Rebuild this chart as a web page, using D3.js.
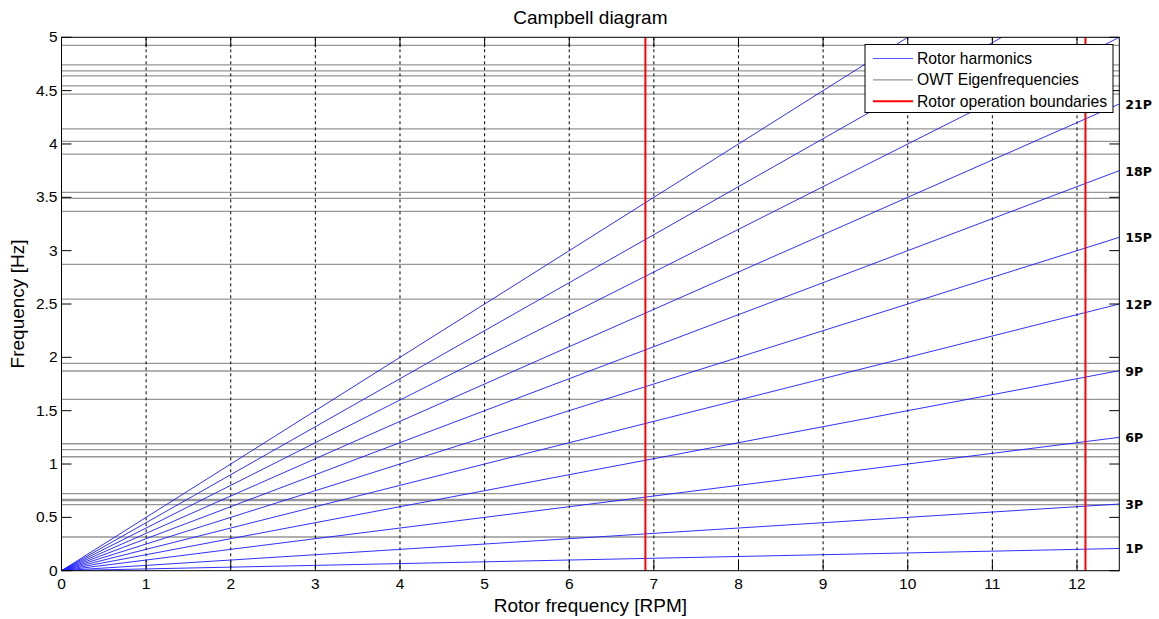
<!DOCTYPE html>
<html lang="en">
<head>
<meta charset="UTF-8">
<title>Campbell diagram</title>
<script src="https://d3js.org/d3.v7.min.js"></script>
<style>
    body { margin: 0; background: #fff; font-family: "Liberation Sans", Arial, sans-serif; }
    .tick-label { font-size: 15.5px; fill: #000; }
    .axis-label { font-size: 19px; fill: #000; }
    .harm-label { font-size: 12.5px; font-weight: bold; font-family: "DejaVu Sans", sans-serif; }
</style>
</head>
<body>
<div id="chart"></div>
<script>
// rotor harmonics (multiples of the rotor speed)
const harmonics = [1, 3, 6, 9, 12, 15, 18, 21, 24, 27, 30];
const labeledHarmonics = [1, 3, 6, 9, 12, 15, 18, 21];
// OWT eigenfrequencies [Hz]
const eigenFreqs = [0.316, 0.619, 0.656, 0.669, 0.722, 1.068, 1.134, 1.190,
    1.606, 1.872, 1.944, 2.546, 2.872, 3.368, 3.490, 3.546,
    3.905, 4.024, 4.142, 4.467, 4.545, 4.639, 4.686, 4.742, 4.924];
// rotor operating range [RPM]
const boundaries = [6.9, 12.1];
const xTicks = d3.range(0, 13);
const yTicks = [0, 0.5, 1, 1.5, 2, 2.5, 3, 3.5, 4, 4.5, 5];
const legendItems = ["Rotor harmonics", "OWT Eigenfrequencies", "Rotor operation boundaries"];

const W = 1159, H = 619;
const pLeft = 61.5, pRight = 1119.3, pTop = 37.3, pBottom = 570.7;

const svg = d3.select("#chart").append("svg")
    .attr("width", W).attr("height", H);

const x = d3.scaleLinear().domain([0, 12.5]).range([pLeft, pRight]);
const y = d3.scaleLinear().domain([0, 5]).range([pBottom, pTop]);

svg.append("defs").append("clipPath").attr("id", "plot")
    .append("rect")
    .attr("x", pLeft).attr("y", pTop)
    .attr("width", pRight - pLeft).attr("height", pBottom - pTop);

const plot = svg.append("g").attr("clip-path", "url(#plot)");

// eigenfrequencies
plot.selectAll(".eig")
    .data(eigenFreqs)
    .enter().append("line")
    .attr("x1", pLeft).attr("x2", pRight)
    .attr("y1", d => y(d)).attr("y2", d => y(d))
    .attr("stroke", "#969696")
    .attr("stroke-width", 1.3);

// vertical grid
plot.selectAll(".grid")
    .data(xTicks.slice(1))
    .enter().append("line")
    .attr("x1", d => x(d)).attr("x2", d => x(d))
    .attr("y1", pTop).attr("y2", pBottom)
    .attr("stroke", "#000")
    .attr("stroke-width", 1)
    .attr("stroke-dasharray", "3,3");

// harmonic lines, rpm -> Hz
plot.selectAll(".harm")
    .data(harmonics)
    .enter().append("line")
    .attr("x1", x(0)).attr("y1", y(0))
    .attr("x2", x(12.5)).attr("y2", d => y(d * 12.5 / 60))
    .attr("stroke", "#1a1aff")
    .attr("stroke-width", 0.9);

// operating boundaries
plot.selectAll(".bound")
    .data(boundaries)
    .enter().append("line")
    .attr("x1", d => x(d)).attr("x2", d => x(d))
    .attr("y1", pTop).attr("y2", pBottom)
    .attr("stroke", "#ff0000")
    .attr("stroke-width", 2);

// axes box and ticks (inside, mirrored)
const axisG = svg.append("g");
axisG.append("rect")
    .attr("x", pLeft).attr("y", pTop)
    .attr("width", pRight - pLeft).attr("height", pBottom - pTop)
    .attr("fill", "none").attr("stroke", "#000").attr("stroke-width", 1);

axisG.selectAll(".xt")
    .data(xTicks)
    .enter().append("line")
    .attr("x1", d => x(d)).attr("x2", d => x(d))
    .attr("y1", pBottom).attr("y2", pBottom - 10)
    .attr("stroke", "#000");
axisG.selectAll(".xt2")
    .data(xTicks)
    .enter().append("line")
    .attr("x1", d => x(d)).attr("x2", d => x(d))
    .attr("y1", pTop).attr("y2", pTop + 10)
    .attr("stroke", "#000");
axisG.selectAll(".yt")
    .data(yTicks)
    .enter().append("line")
    .attr("x1", pLeft).attr("x2", pLeft + 10)
    .attr("y1", d => y(d)).attr("y2", d => y(d))
    .attr("stroke", "#000");
axisG.selectAll(".yt2")
    .data(yTicks)
    .enter().append("line")
    .attr("x1", pRight).attr("x2", pRight - 10)
    .attr("y1", d => y(d)).attr("y2", d => y(d))
    .attr("stroke", "#000");

axisG.selectAll(".xl")
    .data(xTicks)
    .enter().append("text")
    .attr("class", "tick-label")
    .attr("x", d => x(d)).attr("y", pBottom + 18)
    .attr("text-anchor", "middle")
    .text(d => d);
axisG.selectAll(".yl")
    .data(yTicks)
    .enter().append("text")
    .attr("class", "tick-label")
    .attr("x", pLeft - 4).attr("y", d => y(d) + 5)
    .attr("text-anchor", "end")
    .text(d => d);

// harmonic labels at the right edge
svg.selectAll(".hl")
    .data(labeledHarmonics)
    .enter().append("text")
    .attr("class", "harm-label")
    .attr("x", pRight + 6)
    .attr("y", d => y(d * 12.5 / 60) + 5)
    .text(d => d + "P");

// titles
svg.append("text")
    .attr("x", (pLeft + pRight) / 2).attr("y", 24)
    .attr("text-anchor", "middle")
    .style("font-size", "19px")
    .text("Campbell diagram");
svg.append("text")
    .attr("class", "axis-label")
    .attr("x", (pLeft + pRight) / 2).attr("y", 612)
    .attr("text-anchor", "middle")
    .text("Rotor frequency [RPM]");
svg.append("text")
    .attr("class", "axis-label")
    .attr("transform", `translate(24,${(pTop + pBottom) / 2}) rotate(-90)`)
    .attr("text-anchor", "middle")
    .text("Frequency [Hz]");

// legend
const lg = svg.append("g").attr("transform", "translate(865,44.5)");
lg.append("rect")
    .attr("width", 248).attr("height", 68)
    .attr("fill", "#fff").attr("stroke", "#000").attr("stroke-width", 1);
const legendColors = ["#5555ff", "#969696", "#ff0000"];
const legendWidths = [1, 1.3, 2];
legendItems.forEach((t, i) => {
    const ly = 14 + i * 21.4;
    lg.append("line")
        .attr("x1", 8).attr("x2", 48)
        .attr("y1", ly).attr("y2", ly)
        .attr("stroke", legendColors[i])
        .attr("stroke-width", legendWidths[i]);
    lg.append("text")
        .attr("x", 52).attr("y", ly + 5.5)
        .style("font-size", "15.7px")
        .text(t);
});
</script>
</body>
</html>
